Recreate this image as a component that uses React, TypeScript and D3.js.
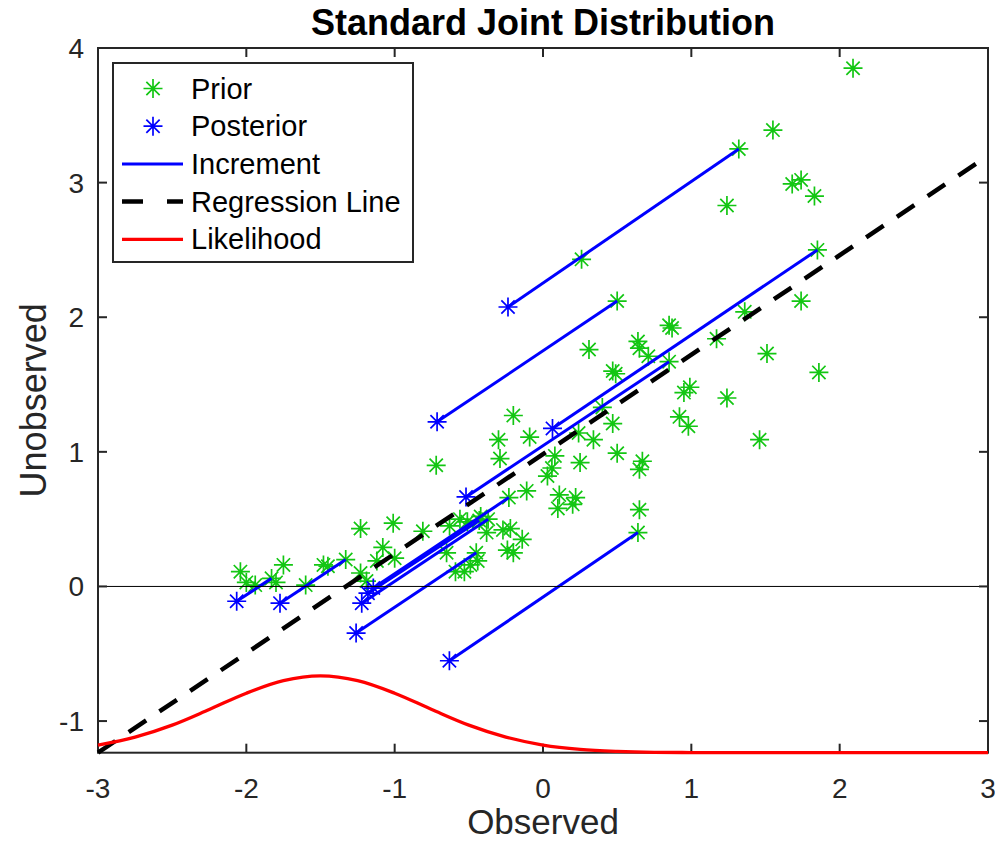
import React from "react";
import * as d3 from "d3";

// Prior ensemble members (observed, unobserved)
const priorX = [
  -2.04, -2.0, -1.94, -1.83, -1.8, -1.75, -1.6, -1.48, -1.45, -1.33, -1.23, -1.23, -1.19,
  -1.08, -1.12, -1.01, -1.0, -0.81, -0.63, -0.56, -0.51, -0.42, -0.37, -0.38, -0.27, -0.22,
  -0.14, -0.24, -0.2, -0.65, -0.45, -0.44, -0.59, -0.53, -0.49, -0.11, -0.23, -0.72, -0.2,
  -0.3, -0.09, -0.29, 0.08, 0.06, 0.03, 0.25, 0.11, 0.22, 0.2, 0.1, 0.65, 0.64, 0.5, 0.67,
  0.65, 0.24, 0.34, 0.47, 0.4, 0.31, 0.5, 0.47, 0.49, 0.64, 0.65, 0.71, 0.85, 0.87, 0.85,
  0.95, 0.99, 0.92, 0.98, 1.17, 1.24, 1.46, 1.51, 1.36, 1.74, 1.86, 1.85, 1.24, 1.68, 1.74,
  1.83, 1.55, 1.32, 2.09, 0.26, -0.43,
];
const priorY = [
  0.11, 0.03, 0.01, 0.06, 0.03, 0.16, 0.01, 0.16, 0.15, 0.2, 0.43, 0.1, 0.04,
  0.29, 0.19, 0.47, 0.21, 0.41, 0.45, 0.5, 0.48, 0.52, 0.5, 0.4, 0.42, 0.43,
  0.35, 0.27, 0.25, 0.25, 0.25, 0.19, 0.11, 0.11, 0.16, 0.71, 0.66, 0.9, 1.27,
  1.09, 1.11, 0.95, 0.97, 0.88, 0.82, 0.92, 0.68, 0.66, 0.61, 0.58, 0.57, 0.4, 0.99, 0.93,
  0.87, 1.14, 1.09, 1.21, 1.33, 1.76, 2.12, 1.6, 1.58, 1.82, 1.77, 1.71, 1.94, 1.92, 1.67,
  1.44, 1.48, 1.26, 1.19, 1.84, 1.4, 1.09, 1.73, 2.04, 2.12, 1.59, 2.5, 2.83, 2.99, 3.02,
  2.9, 3.39, 3.25, 3.85, 2.43, 0.49,
];

// Updated members and the prior members they came from
const incPriorX = [-1.83, -1.33, -0.37, -0.23, -0.43, -0.45, 0.64, 0.85, 1.85, 0.5, 1.32];
const incPriorY = [0.06, 0.2, 0.5, 0.66, 0.49, 0.25, 0.4, 1.67, 2.5, 2.12, 3.25];
const postX = [-2.065, -1.773, -1.222, -1.144, -1.18, -1.26, -0.631, -0.519, 0.064, -0.714, -0.236];
const postY = [-0.11, -0.124, -0.124, -0.012, -0.05, -0.346, -0.552, 0.665, 1.174, 1.223, 2.076];

// Regression line end points
const regX = [-3, 3];
const regY = [-1.235, 3.2];

// Likelihood curve (offset to the bottom of the axes)
const likX = [
  -3, -2.75, -2.5, -2.25, -2, -1.75, -1.5, -1.25, -1, -0.75, -0.5, -0.25, 0, 0.25, 0.5,
  0.75, 1, 1.25, 1.5, 2, 2.5, 3,
];
const likY = [
  -1.178, -1.119, -1.03, -0.914, -0.793, -0.7, -0.665, -0.7, -0.793, -0.914, -1.03, -1.119,
  -1.178, -1.21, -1.225, -1.232, -1.234, -1.235, -1.235, -1.235, -1.235, -1.235,
];

const xTicks = [-3, -2, -1, 0, 1, 2, 3];
const yTicks = [-1, 0, 1, 2, 3, 4];

const legendItems = ["Prior", "Posterior", "Increment", "Regression Line", "Likelihood"];

const W = 995;
const H = 844;
const left = 98;
const right = 988;
const top = 48;
const bottom = 752.7;

const GREEN = "#13c613";
const BLUE = "#0000ff";
const RED = "#ff0000";
const AXIS = "#262626";
const FONT = "'Liberation Sans', Arial, Helvetica, sans-serif";

function starPath(cx: number, cy: number, r: number) {
  const d = r * 0.7;
  return (
    `M${cx - r},${cy}H${cx + r}M${cx},${cy - r}V${cy + r}` +
    `M${cx - d},${cy - d}L${cx + d},${cy + d}M${cx - d},${cy + d}L${cx + d},${cy - d}`
  );
}

export default function App() {
  const x = d3.scaleLinear().domain([-3, 3]).range([left, right]);
  const y = d3.scaleLinear().domain([-1.235, 4]).range([bottom, top]);

  const line = d3
    .line<[number, number]>()
    .x((d) => x(d[0]))
    .y((d) => y(d[1]));
  const smooth = d3
    .line<[number, number]>()
    .x((d) => x(d[0]))
    .y((d) => y(d[1]))
    .curve(d3.curveMonotoneX);

  const R = 9.5;
  const SW = 1.7;
  const tick = 9;

  const legX = 113;
  const legY = 63;
  const legW = 300;
  const legH = 199;
  const rowH = 37.7;

  return (
    <svg
      width={W}
      height={H}
      style={{ position: "absolute", left: 0, top: 0, background: "#fff" }}
      fontFamily={FONT}
    >
      <rect x={0} y={0} width={W} height={H} fill="#fff" />
      <text x={543} y={35} textAnchor="middle" fontSize={36} fontWeight="bold" fill="#000">
        Standard Joint Distribution
      </text>

      <clipPath id="plotArea">
        <rect x={left} y={top} width={right - left} height={bottom - top} />
      </clipPath>

      <g clipPath="url(#plotArea)">
        {/* prior ensemble */}
        {priorX.map((px, i) => (
          <path key={"p" + i} d={starPath(x(px), y(priorY[i]), R)} stroke={GREEN} strokeWidth={SW} fill="none" />
        ))}
        {/* posterior ensemble */}
        {postX.map((px, i) => (
          <path key={"q" + i} d={starPath(x(px), y(postY[i]), R)} stroke={BLUE} strokeWidth={SW} fill="none" />
        ))}
        {/* increments */}
        {postX.map((px, i) => (
          <path
            key={"inc" + i}
            d={line([[px, postY[i]], [incPriorX[i], incPriorY[i]]]) || ""}
            stroke={BLUE}
            strokeWidth={3}
            fill="none"
          />
        ))}
        {/* zero line */}
        <line x1={left} x2={right} y1={y(0)} y2={y(0)} stroke="#000" strokeWidth={1} />
      </g>

      {/* axes box and ticks */}
      <rect x={left} y={top} width={right - left} height={bottom - top} fill="none" stroke={AXIS} strokeWidth={2} />
      {xTicks.map((t) => (
        <g key={"xt" + t}>
          <line x1={x(t)} x2={x(t)} y1={bottom} y2={bottom - tick} stroke={AXIS} strokeWidth={2} />
          <line x1={x(t)} x2={x(t)} y1={top} y2={top + tick} stroke={AXIS} strokeWidth={2} />
          <text x={x(t)} y={bottom + 45} textAnchor="middle" fontSize={28} fill={AXIS}>
            {t}
          </text>
        </g>
      ))}
      {yTicks.map((t) => (
        <g key={"yt" + t}>
          <line x1={left} x2={left + tick} y1={y(t)} y2={y(t)} stroke={AXIS} strokeWidth={2} />
          <line x1={right} x2={right - tick} y1={y(t)} y2={y(t)} stroke={AXIS} strokeWidth={2} />
          <text x={left - 14} y={y(t) + 10} textAnchor="end" fontSize={28} fill={AXIS}>
            {t}
          </text>
        </g>
      ))}

      {/* regression line and likelihood sit on top of the axes */}
      <path
        d={line(regX.map((v, i) => [v, regY[i]] as [number, number])) || ""}
        stroke="#000"
        strokeWidth={4.5}
        strokeDasharray="21 16"
        fill="none"
      />
      <path
        d={smooth(likX.map((v, i) => [v, likY[i]] as [number, number])) || ""}
        stroke={RED}
        strokeWidth={3.3}
        fill="none"
      />

      <text x={543} y={834} textAnchor="middle" fontSize={35} fill={AXIS}>
        Observed
      </text>
      <text
        transform={`translate(46, ${(top + bottom) / 2}) rotate(-90)`}
        textAnchor="middle"
        fontSize={36}
        fill={AXIS}
      >
        Unobserved
      </text>

      {/* legend */}
      <g>
        <rect x={legX} y={legY} width={legW} height={legH} fill="#fff" stroke={AXIS} strokeWidth={2} />
        {legendItems.map((label, i) => {
          const cy = legY + 25.5 + i * rowH;
          let sample: React.ReactNode = null;
          if (i === 0) sample = <path d={starPath(153, cy, R)} stroke={GREEN} strokeWidth={SW} fill="none" />;
          if (i === 1) sample = <path d={starPath(153, cy, R)} stroke={BLUE} strokeWidth={SW} fill="none" />;
          if (i === 2) sample = <line x1={122} x2={183} y1={cy} y2={cy} stroke={BLUE} strokeWidth={3} />;
          if (i === 3)
            sample = (
              <line x1={122} x2={183} y1={cy} y2={cy} stroke="#000" strokeWidth={4.5} strokeDasharray="21 24" />
            );
          if (i === 4) sample = <line x1={122} x2={183} y1={cy} y2={cy} stroke={RED} strokeWidth={3.3} />;
          return (
            <g key={label}>
              {sample}
              <text x={191} y={cy + 10} fontSize={29} fill="#000">
                {label}
              </text>
            </g>
          );
        })}
      </g>
    </svg>
  );
}
